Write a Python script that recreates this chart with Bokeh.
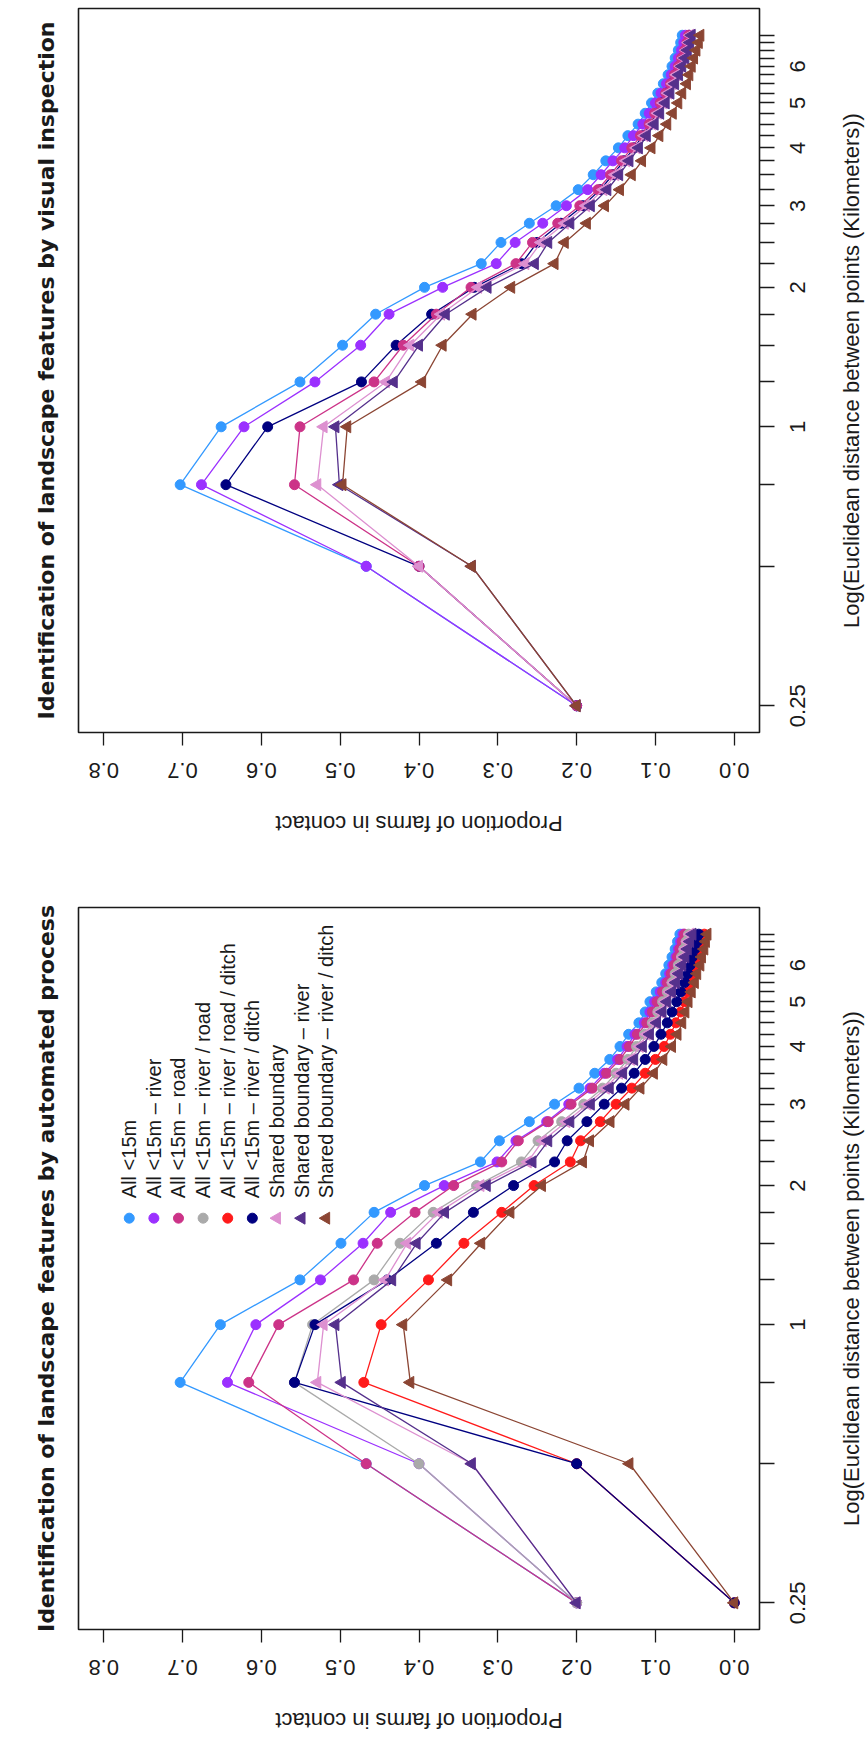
from math import pi
from bokeh.plotting import figure
from bokeh.models import Range1d, FixedTicker, InlineStyleSheet
from bokeh.layouts import row
from bokeh.embed import file_html
from bokeh.resources import INLINE
from bokeh.core.properties import value

# ---------------- data ----------------
distance_km = [0.25, 0.5, 0.75, 1.0, 1.25, 1.5, 1.75, 2.0, 2.25, 2.5, 2.75, 3.0, 3.25, 3.5,
               3.75, 4.0, 4.25, 4.5, 4.75, 5.0, 5.25, 5.5, 5.75, 6.0, 6.25, 6.5, 6.75, 7.0]

distance_labelled_ticks = [0.25, 1.0, 2.0, 3.0, 4.0, 5.0, 6.0]
distance_other_ticks = [0.5, 0.75, 1.25, 1.5, 1.75, 2.25, 2.5, 2.75, 3.25, 3.5, 3.75, 4.25, 4.5,
                        4.75, 5.25, 5.5, 5.75, 6.25, 6.5, 6.75, 7.0]
distance_tick_labels = ["0.25", "1", "2", "3", "4", "5", "6"]
proportion_ticks = [0.0, 0.1, 0.2, 0.3, 0.4, 0.5, 0.6, 0.7, 0.8]
proportion_tick_labels = ["0.0", "0.1", "0.2", "0.3", "0.4", "0.5", "0.6", "0.7", "0.8"]

# automated process panel
auto_all = [0.2, 0.467, 0.703, 0.652, 0.551, 0.499, 0.457, 0.393, 0.322, 0.298, 0.260, 0.228, 0.197, 0.177,
            0.158, 0.145, 0.134, 0.121, 0.113, 0.107, 0.099, 0.092, 0.087, 0.083, 0.079, 0.075, 0.072, 0.069]
auto_river = [0.2, 0.4, 0.643, 0.607, 0.525, 0.471, 0.436, 0.368, 0.301, 0.277, 0.238, 0.210, 0.183, 0.165,
              0.148, 0.136, 0.126, 0.114, 0.107, 0.101, 0.094, 0.087, 0.082, 0.078, 0.074, 0.071, 0.068, 0.065]
auto_road = [0.2, 0.467, 0.616, 0.578, 0.483, 0.453, 0.405, 0.356, 0.295, 0.274, 0.236, 0.207, 0.180, 0.162,
             0.145, 0.133, 0.123, 0.111, 0.104, 0.098, 0.091, 0.085, 0.080, 0.076, 0.072, 0.069, 0.066, 0.063]
auto_river_road = [0.2, 0.4, 0.558, 0.535, 0.457, 0.424, 0.382, 0.327, 0.270, 0.249, 0.219, 0.191, 0.167, 0.150,
                   0.135, 0.124, 0.114, 0.104, 0.097, 0.091, 0.085, 0.079, 0.075, 0.071, 0.067, 0.064, 0.061, 0.058]
auto_river_road_ditch = [0.0, 0.2, 0.470, 0.448, 0.388, 0.343, 0.295, 0.254, 0.208, 0.195, 0.170, 0.150, 0.130, 0.113,
                         0.100, 0.089, 0.081, 0.074, 0.068, 0.063, 0.059, 0.055, 0.051, 0.048, 0.045, 0.042, 0.040, 0.038]
auto_river_ditch = [0.0, 0.2, 0.558, 0.532, 0.440, 0.378, 0.331, 0.280, 0.228, 0.212, 0.187, 0.165, 0.143, 0.127,
                    0.113, 0.102, 0.093, 0.085, 0.079, 0.073, 0.068, 0.063, 0.059, 0.056, 0.053, 0.050, 0.047, 0.045]
auto_shared = [0.2, 0.333, 0.529, 0.521, 0.443, 0.415, 0.375, 0.322, 0.262, 0.243, 0.213, 0.186, 0.163, 0.146,
               0.131, 0.120, 0.111, 0.101, 0.094, 0.088, 0.082, 0.077, 0.072, 0.068, 0.065, 0.062, 0.059, 0.056]
auto_shared_river = [0.2, 0.333, 0.498, 0.506, 0.434, 0.403, 0.367, 0.314, 0.256, 0.236, 0.208, 0.182, 0.158, 0.141,
                     0.127, 0.116, 0.107, 0.098, 0.091, 0.085, 0.079, 0.074, 0.070, 0.066, 0.062, 0.059, 0.056, 0.053]
auto_shared_river_ditch = [0.0, 0.133, 0.411, 0.420, 0.363, 0.321, 0.284, 0.244, 0.192, 0.183, 0.157, 0.138, 0.119, 0.102,
                           0.090, 0.079, 0.072, 0.066, 0.062, 0.058, 0.054, 0.050, 0.047, 0.043, 0.041, 0.038, 0.036, 0.034]

# visual inspection panel
vis_all = [0.2, 0.467, 0.703, 0.651, 0.551, 0.497, 0.455, 0.393, 0.321, 0.296, 0.260, 0.226, 0.198, 0.179,
           0.163, 0.147, 0.135, 0.122, 0.113, 0.105, 0.097, 0.090, 0.084, 0.079, 0.075, 0.071, 0.068, 0.066]
vis_river = [0.2, 0.467, 0.676, 0.622, 0.532, 0.474, 0.438, 0.370, 0.302, 0.278, 0.243, 0.213, 0.186, 0.169,
             0.154, 0.139, 0.128, 0.116, 0.108, 0.100, 0.093, 0.086, 0.080, 0.075, 0.071, 0.067, 0.064, 0.062]
vis_river_ditch = [0.2, 0.4, 0.645, 0.592, 0.473, 0.429, 0.384, 0.330, 0.270, 0.250, 0.220, 0.192, 0.170, 0.154,
                   0.140, 0.127, 0.116, 0.106, 0.099, 0.092, 0.086, 0.080, 0.075, 0.070, 0.066, 0.062, 0.059, 0.057]
vis_road = [0.2, 0.4, 0.558, 0.551, 0.457, 0.420, 0.378, 0.334, 0.277, 0.256, 0.224, 0.196, 0.173, 0.157,
            0.143, 0.130, 0.119, 0.108, 0.101, 0.094, 0.087, 0.081, 0.076, 0.071, 0.067, 0.063, 0.060, 0.058]
vis_shared = [0.2, 0.4, 0.529, 0.521, 0.442, 0.411, 0.372, 0.325, 0.265, 0.245, 0.215, 0.188, 0.166, 0.151,
              0.137, 0.124, 0.114, 0.104, 0.097, 0.090, 0.084, 0.078, 0.073, 0.068, 0.064, 0.061, 0.058, 0.056]
vis_shared_river = [0.2, 0.333, 0.501, 0.506, 0.432, 0.400, 0.366, 0.313, 0.253, 0.236, 0.208, 0.182, 0.161, 0.146,
                    0.133, 0.121, 0.111, 0.101, 0.094, 0.087, 0.081, 0.075, 0.070, 0.066, 0.062, 0.059, 0.056, 0.054]
vis_shared_river_ditch = [0.2, 0.333, 0.497, 0.491, 0.396, 0.370, 0.332, 0.283, 0.228, 0.215, 0.187, 0.164, 0.145, 0.130,
                          0.117, 0.105, 0.095, 0.085, 0.078, 0.071, 0.066, 0.060, 0.057, 0.054, 0.051, 0.048, 0.045, 0.043]

series_names = ["All <15m", "All <15m \u2013 river", "All <15m \u2013 road", "All <15m \u2013 river / road",
                "All <15m \u2013 river / road / ditch", "All <15m \u2013 river / ditch", "Shared boundary",
                "Shared boundary \u2013 river", "Shared boundary \u2013 river / ditch"]
series_colors = ["#3399ff", "#9b30ff", "#cc3388", "#aaaaaa", "#ff1a1a", "#000080", "#dd90d0", "#55308c", "#8b4533"]
series_markers = ["circle", "circle", "circle", "circle", "circle", "circle", "triangle", "triangle", "triangle"]

auto_values = [auto_all, auto_river, auto_road, auto_river_road, auto_river_road_ditch, auto_river_ditch,
               auto_shared, auto_shared_river, auto_shared_river_ditch]
vis_index = [0, 1, 5, 2, 6, 7, 8]
vis_values = [vis_all, vis_river, vis_river_ditch, vis_road, vis_shared, vis_shared_river, vis_shared_river_ditch]

titles = ["Identification of landscape features by automated process",
          "Identification of landscape features by visual inspection"]
x_axis_title = "Log(Euclidean distance between points (Kilometers))"
y_axis_title = "Proportion of farms in contact"

# ---------------- styling ----------------
AXIS_FONT = "Liberation Sans"
TITLE_FONT = "DejaVu Sans"
INK = "#1a1a1a"
PAGE_W, PAGE_H = 1742, 865      # the figure as drawn; the page shows it turned a quarter turn
CIRCLE_SIZE, TRIANGLE_SIZE = 10, 12


def make_panel(title, border_left, border_right):
    p = figure(width=871, height=PAGE_H, output_backend="svg", toolbar_location=None,
               x_range=Range1d(0.2189, 7.995), y_range=Range1d(-0.032, 0.832),
               x_axis_type="log", title=title,
               min_border_left=border_left, min_border_right=border_right,
               min_border_top=78, min_border_bottom=112)
    p.background_fill_color = "white"
    p.border_fill_color = "white"
    p.outline_line_color = INK
    p.outline_line_width = 1.6
    p.xgrid.visible = False
    p.ygrid.visible = False

    p.title.text_font = TITLE_FONT
    p.title.text_font_size = "22px"
    p.title.text_font_style = "bold"
    p.title.text_color = INK
    p.title.align = "center"
    p.title.standoff = 40

    xa = p.xaxis[0]
    xa.ticker = FixedTicker(ticks=distance_labelled_ticks, minor_ticks=distance_other_ticks)
    xa.major_label_overrides = dict(zip(distance_labelled_ticks, distance_tick_labels))
    xa.axis_label = x_axis_title
    ya = p.yaxis[0]
    ya.ticker = FixedTicker(ticks=proportion_ticks)
    ya.major_label_overrides = dict(zip(proportion_ticks, proportion_tick_labels))
    ya.major_label_orientation = "vertical"
    ya.axis_label = y_axis_title

    for ax, tick_len, lab_gap, title_gap in ((xa, 15, 15, 31), (ya, 13, 17, 30)):
        ax.axis_line_color = None
        ax.major_tick_in = 0
        ax.major_tick_out = tick_len
        ax.minor_tick_in = 0
        ax.minor_tick_out = tick_len
        ax.major_tick_line_color = INK
        ax.minor_tick_line_color = INK
        ax.major_tick_line_width = 1.3
        ax.minor_tick_line_width = 1.3
        ax.major_label_text_font = AXIS_FONT
        ax.major_label_text_font_size = "22px"
        ax.major_label_text_color = INK
        ax.major_label_standoff = lab_gap
        ax.axis_label_text_font = AXIS_FONT
        ax.axis_label_text_font_size = "22px"
        ax.axis_label_text_font_style = "normal"
        ax.axis_label_text_color = INK
        ax.axis_label_standoff = title_gap
    return p


def marker_size(idx):
    return TRIANGLE_SIZE if series_markers[idx] == "triangle" else CIRCLE_SIZE


def draw_series(p, values, idx):
    color = series_colors[idx]
    p.line(x=distance_km, y=values, line_color=color, line_width=1.3)
    p.scatter(x=distance_km, y=values, marker=series_markers[idx], size=marker_size(idx),
              fill_color=color, line_color=color)


left = make_panel(titles[0], 112, 31)
for idx, vals in enumerate(auto_values):
    draw_series(left, vals, idx)

right = make_panel(titles[1], 138, 3)
for vals, idx in zip(vis_values, vis_index):
    draw_series(right, vals, idx)

# legend (top right of the automated-process panel, no box, as in the original)
leg_marker_d, leg_text_d = 1.70, 1.878
leg_y0, leg_dy = 0.7676, -0.03123
leg_y = [leg_y0 + i * leg_dy for i in range(len(series_names))]
for i, name in enumerate(series_names):
    color = series_colors[i]
    left.scatter(x=[leg_marker_d], y=[leg_y[i]], marker=series_markers[i], size=marker_size(i),
                 fill_color=color, line_color=color)
left.text(x=[leg_text_d] * len(series_names), y=leg_y, text=series_names,
          text_font=value(AXIS_FONT), text_font_size="20px", text_color=INK,
          text_align="left", text_baseline="middle")

# the published page shows the whole figure turned a quarter turn anticlockwise
turn = InlineStyleSheet(css=":host { transform-origin: 0 0; "
                            "transform: translate(0px, %dpx) rotate(-90deg); }" % PAGE_W)
layout = row(left, right, spacing=0, stylesheets=[turn])
open("out.html", "w").write(file_html(layout, INLINE))
